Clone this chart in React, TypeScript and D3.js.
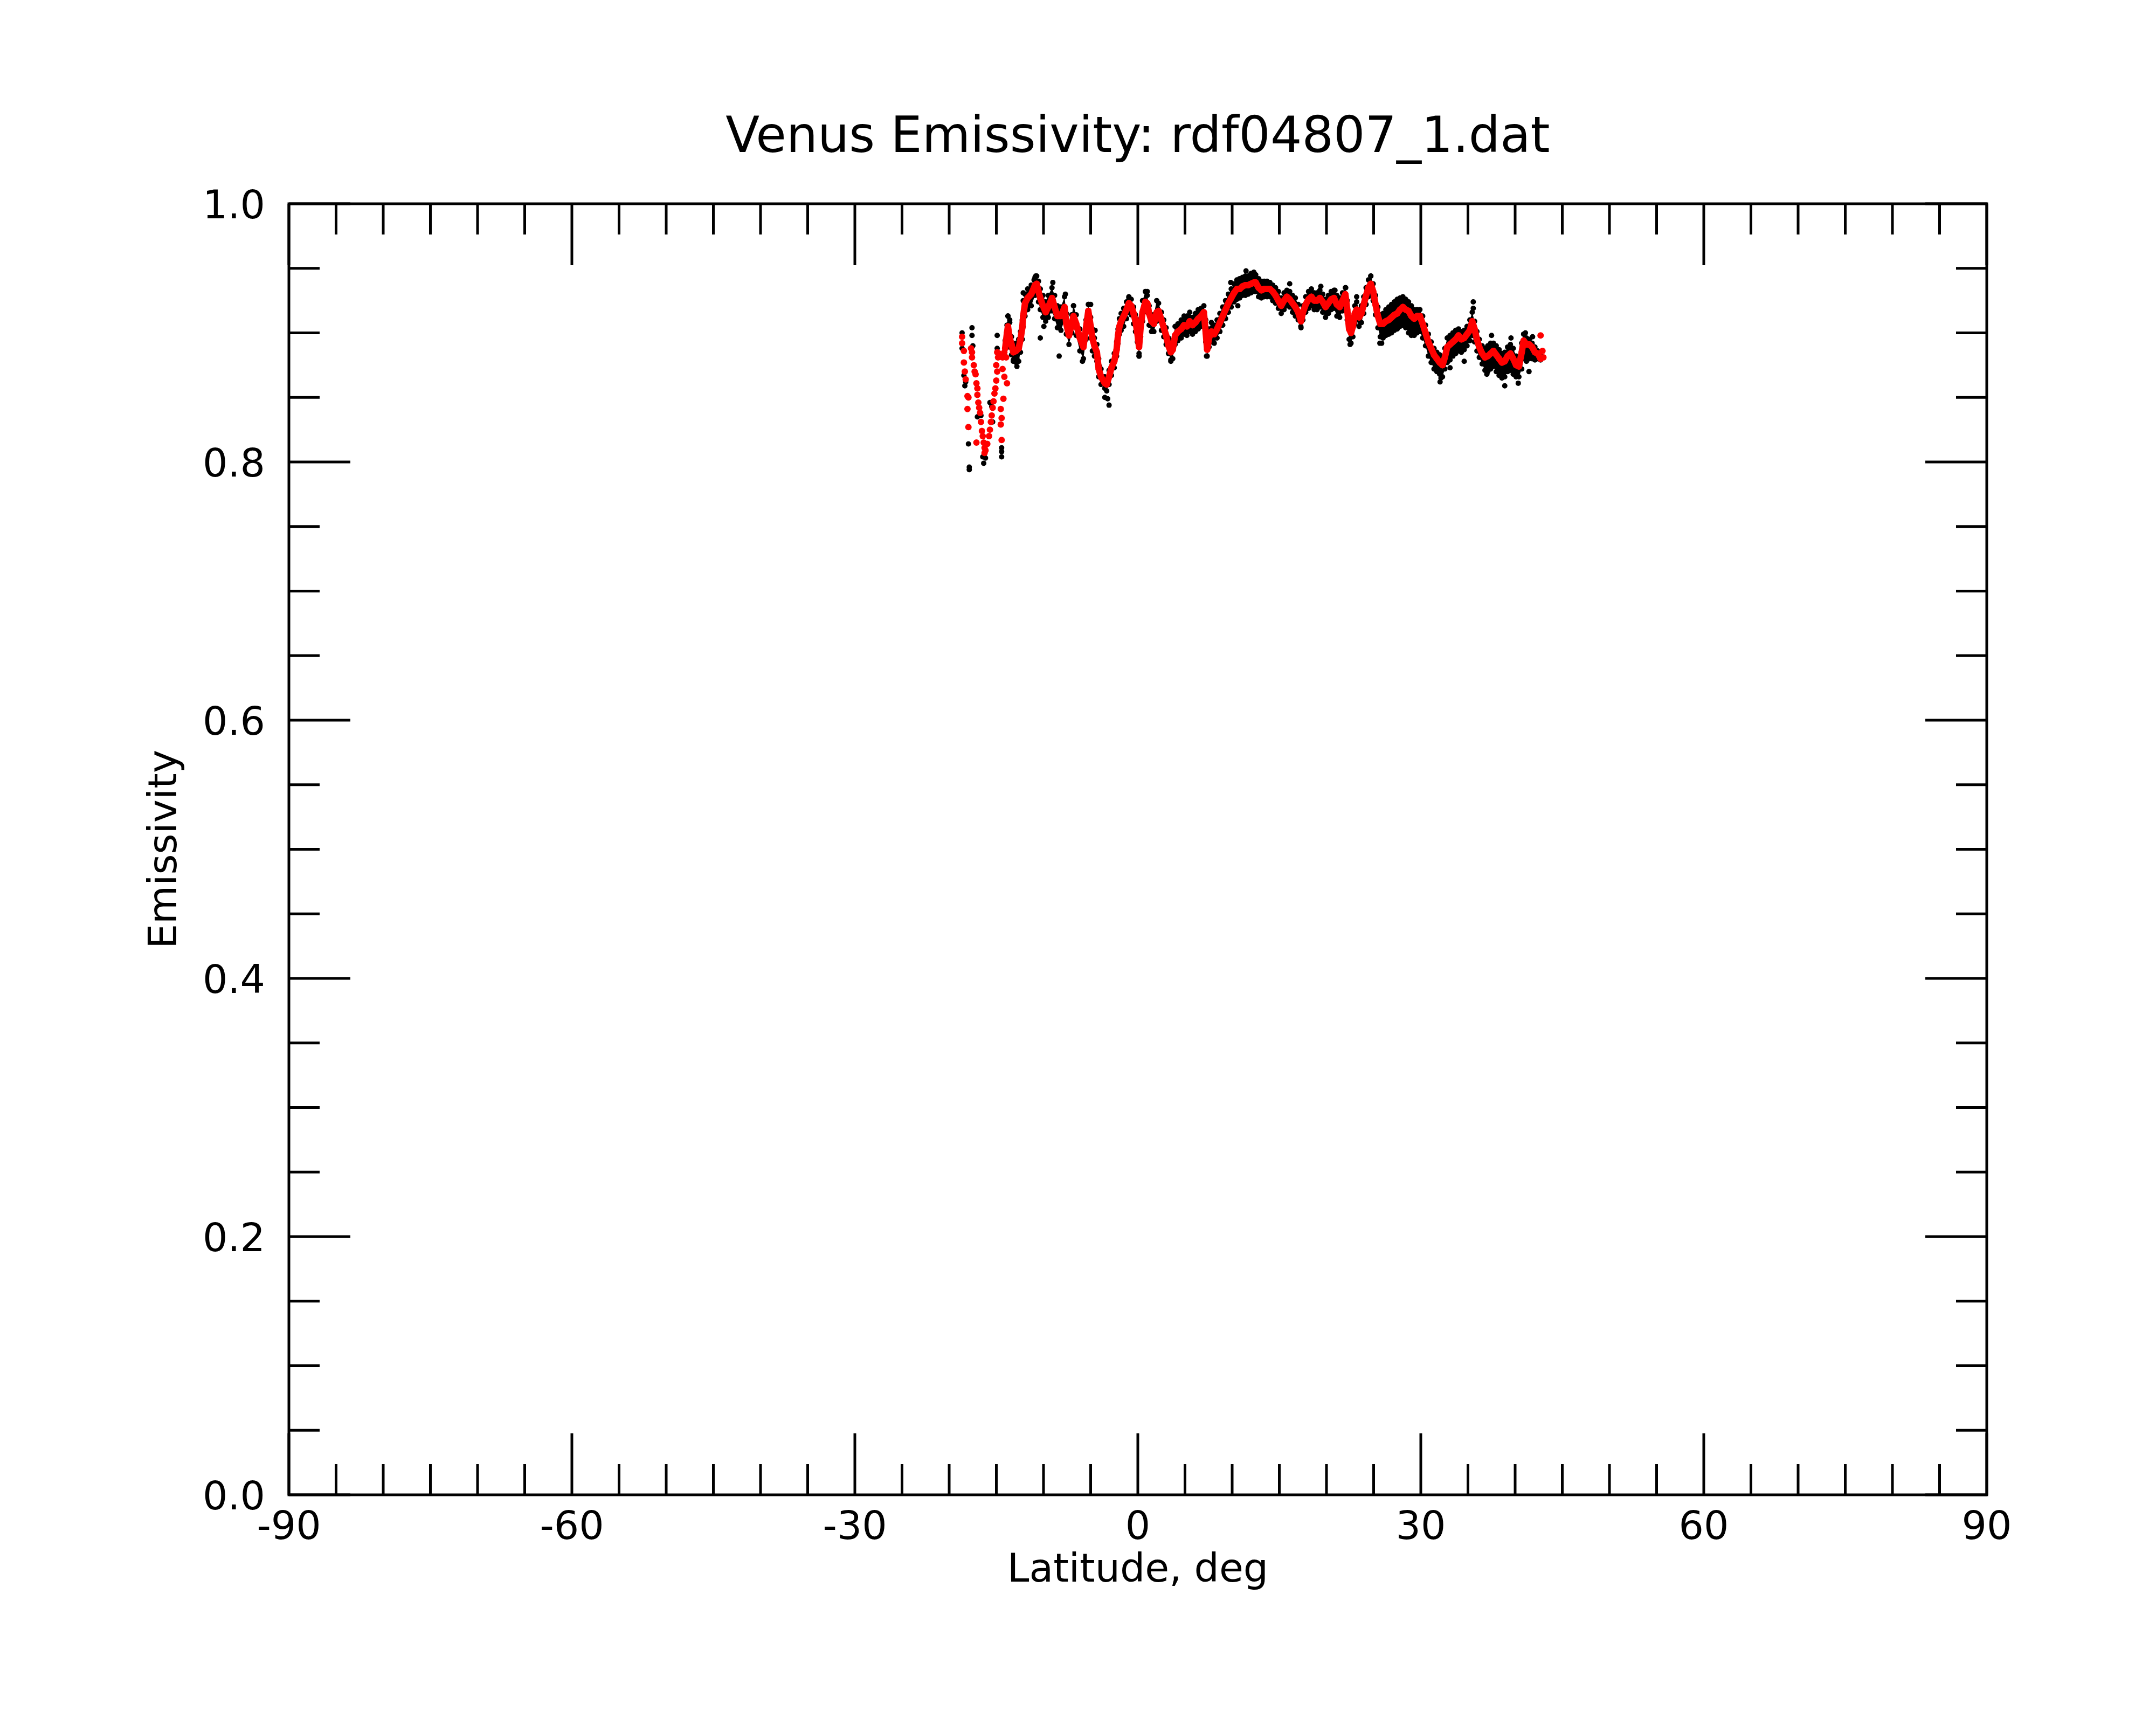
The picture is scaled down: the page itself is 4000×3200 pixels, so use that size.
import React from "react";
import * as d3 from "d3";

const W = 4000;
const H = 3200;
const PLOT = { left: 536, right: 3686, top: 378, bottom: 2773 };

const TITLE = "Venus Emissivity: rdf04807_1.dat";
const X_LABEL = "Latitude, deg";
const Y_LABEL = "Emissivity";
const X_DOMAIN: [number, number] = [-90, 90];
const Y_DOMAIN: [number, number] = [0, 1];
const X_MAJOR = [-90, -60, -30, 0, 30, 60, 90];
const X_MINOR_STEP = 5;
const Y_MAJOR = [0, 0.2, 0.4, 0.6, 0.8, 1.0];
const Y_MINOR_STEP = 0.05;

// continuous part of the scan: latitude, smoothed (red) value, raw (black) upper and lower spread
const bandLat = [
  -14.06, -13.87, -13.77, -13.58, -13.39, -13.2, -12.91, -12.63, -12.44, -12.25,
  -12.15, -11.96, -11.68, -11.3, -10.9, -10.72, -10.53, -10.34, -10.06, -9.77,
  -9.49, -9.1, -8.82, -8.53, -8.15, -7.77, -7.58, -7.3, -7.0, -6.82,
  -6.53, -6.15, -5.77, -5.49, -5.25, -5.0, -4.82, -4.6, -4.34, -4.15,
  -3.9, -3.5, -3.3, -3.05, -2.8, -2.5, -2.25, -2.1, -1.95, -1.77,
  -1.5, -1.2, -0.95, -0.7, -0.45, -0.25, -0.05, 0.13, 0.3, 0.5,
  0.8, 1.0, 1.2, 1.45, 1.7, 2.0, 2.2, 2.5, 2.75, 3.0,
  3.25, 3.5, 3.7, 3.95, 4.25, 4.6, 4.9, 5.2, 5.5, 5.8,
  6.1, 6.4, 6.7, 7.0, 7.2, 7.35, 7.55, 7.8, 8.1, 8.4,
  8.7, 9.0, 9.3, 9.6, 9.9, 10.2, 10.5, 10.8, 11.1, 11.4,
  11.7, 12.0, 12.3, 12.5, 12.8, 13.1, 13.4, 13.7, 14.0, 14.3,
  14.6, 14.9, 15.2, 15.5, 15.8, 16.1, 16.4, 16.7, 17.0, 17.3,
  17.5, 17.8, 18.1, 18.4, 18.7, 19.0, 19.3, 19.6, 19.9, 20.2,
  20.5, 20.8, 21.1, 21.4, 21.7, 22.0, 22.2, 22.4, 22.6, 22.8,
  23.0, 23.2, 23.45, 23.7, 23.95, 24.2, 24.45, 24.7, 24.95, 25.2,
  25.45, 25.7, 26.0, 26.3, 26.6, 26.9, 27.2, 27.5, 27.8, 28.1,
  28.4, 28.7, 29.0, 29.3, 29.6, 29.9, 30.2, 30.5, 30.8, 31.1,
  31.4, 31.7, 32.0, 32.3, 32.55, 32.8, 33.1, 33.4, 33.7, 34.0,
  34.3, 34.6, 34.9, 35.2, 35.45, 35.7, 35.95, 36.2, 36.5, 36.8,
  37.1, 37.4, 37.7, 38.0, 38.3, 38.6, 38.9, 39.2, 39.5, 39.8,
  40.1, 40.4, 40.7, 40.9, 41.2, 41.5, 41.8, 42.1, 42.4, 42.7,
];

const smoothE = [
  0.888, 0.9, 0.905, 0.896, 0.891, 0.885, 0.886, 0.888, 0.895, 0.904,
  0.913, 0.923, 0.927, 0.93, 0.937, 0.938, 0.932, 0.927, 0.921, 0.916,
  0.92, 0.927, 0.92, 0.913, 0.913, 0.92, 0.907, 0.898, 0.907, 0.913,
  0.907, 0.896, 0.889, 0.904, 0.917, 0.905, 0.896, 0.89, 0.885, 0.872,
  0.866, 0.861, 0.86, 0.866, 0.873, 0.878, 0.887, 0.898, 0.905, 0.909,
  0.913, 0.918, 0.923, 0.921, 0.915, 0.909, 0.9, 0.889, 0.905, 0.916,
  0.924, 0.923, 0.915, 0.909, 0.907, 0.916, 0.917, 0.91, 0.904, 0.898,
  0.89, 0.885, 0.887, 0.898, 0.901, 0.903, 0.906, 0.905, 0.909, 0.906,
  0.908, 0.911, 0.913, 0.916, 0.9, 0.887, 0.896, 0.901, 0.899, 0.903,
  0.908, 0.913, 0.918, 0.923, 0.927, 0.931, 0.934, 0.934, 0.936, 0.937,
  0.937, 0.938, 0.939, 0.939, 0.935, 0.933, 0.934, 0.934, 0.934, 0.932,
  0.929, 0.925, 0.921, 0.925, 0.928, 0.926, 0.923, 0.92, 0.916, 0.909,
  0.916, 0.922, 0.926, 0.928, 0.925, 0.925, 0.927, 0.924, 0.92, 0.923,
  0.926, 0.927, 0.922, 0.92, 0.925, 0.93, 0.918, 0.903, 0.9, 0.905,
  0.915, 0.918, 0.912, 0.915, 0.922, 0.929, 0.935, 0.938, 0.932, 0.922,
  0.913, 0.907, 0.907, 0.909, 0.91, 0.912, 0.914, 0.915, 0.918, 0.92,
  0.918, 0.917, 0.913, 0.911, 0.913, 0.913, 0.907, 0.9, 0.893, 0.888,
  0.883, 0.88, 0.877, 0.875, 0.881, 0.889, 0.891, 0.893, 0.895, 0.898,
  0.895, 0.896, 0.899, 0.902, 0.909, 0.903, 0.895, 0.889, 0.884, 0.881,
  0.882, 0.884, 0.886, 0.883, 0.88, 0.877, 0.878, 0.882, 0.884, 0.88,
  0.875, 0.874, 0.885, 0.894, 0.891, 0.891, 0.889, 0.885, 0.884, 0.88,
];

const rawHiE = [
  0.894, 0.906, 0.913, 0.908, 0.897, 0.892, 0.892, 0.895, 0.901, 0.91,
  0.925, 0.93, 0.934, 0.937, 0.943, 0.944, 0.94, 0.934, 0.929, 0.924,
  0.929, 0.935, 0.929, 0.921, 0.92, 0.928, 0.915, 0.905, 0.914, 0.921,
  0.914, 0.903, 0.896, 0.91, 0.922, 0.912, 0.903, 0.896, 0.891, 0.88,
  0.872, 0.866, 0.864, 0.871, 0.878, 0.884, 0.893, 0.903, 0.911, 0.915,
  0.919, 0.924, 0.928, 0.926, 0.92, 0.914, 0.906, 0.895, 0.911, 0.925,
  0.932, 0.929, 0.921, 0.914, 0.914, 0.925, 0.923, 0.916, 0.91, 0.904,
  0.896, 0.891, 0.894, 0.905, 0.907, 0.91, 0.913, 0.913, 0.916, 0.912,
  0.915, 0.918, 0.919, 0.921, 0.91, 0.894, 0.903, 0.908, 0.906, 0.91,
  0.915, 0.92, 0.925, 0.93, 0.934, 0.938, 0.941, 0.942, 0.943, 0.944,
  0.944, 0.946, 0.947, 0.945, 0.942, 0.94, 0.94, 0.94, 0.939, 0.937,
  0.935, 0.932, 0.927, 0.931, 0.933, 0.932, 0.929, 0.927, 0.922, 0.915,
  0.921, 0.928, 0.932, 0.934, 0.931, 0.931, 0.933, 0.93, 0.926, 0.929,
  0.932, 0.933, 0.929, 0.927, 0.931, 0.935, 0.925, 0.91, 0.907, 0.912,
  0.921, 0.924, 0.918, 0.921, 0.928, 0.935, 0.941, 0.944, 0.938, 0.929,
  0.92, 0.914, 0.915, 0.918, 0.92, 0.922, 0.924, 0.926, 0.927, 0.928,
  0.926, 0.924, 0.921, 0.918, 0.918, 0.918, 0.913, 0.906, 0.899, 0.893,
  0.888, 0.885, 0.883, 0.881, 0.888, 0.896, 0.898, 0.9, 0.902, 0.903,
  0.901, 0.902, 0.905, 0.91, 0.916, 0.909, 0.901, 0.895, 0.89, 0.888,
  0.89, 0.892, 0.892, 0.89, 0.887, 0.884, 0.885, 0.889, 0.891, 0.888,
  0.882, 0.88, 0.892, 0.899, 0.896, 0.895, 0.892, 0.889, 0.886, 0.882,
];

const rawLoE = [
  0.882, 0.893, 0.898, 0.889, 0.883, 0.878, 0.877, 0.878, 0.885, 0.895,
  0.905, 0.913, 0.918, 0.921, 0.929, 0.93, 0.924, 0.918, 0.912, 0.909,
  0.912, 0.917, 0.911, 0.904, 0.902, 0.91, 0.899, 0.891, 0.9, 0.905,
  0.898, 0.886, 0.88, 0.895, 0.908, 0.896, 0.886, 0.882, 0.878, 0.866,
  0.86, 0.857, 0.855, 0.86, 0.867, 0.873, 0.882, 0.892, 0.899, 0.902,
  0.905, 0.911, 0.916, 0.914, 0.907, 0.901, 0.893, 0.882, 0.897, 0.909,
  0.917, 0.916, 0.906, 0.901, 0.901, 0.909, 0.91, 0.902, 0.897, 0.891,
  0.884, 0.879, 0.88, 0.891, 0.894, 0.896, 0.899, 0.898, 0.901, 0.899,
  0.901, 0.903, 0.905, 0.908, 0.893, 0.882, 0.889, 0.893, 0.892, 0.896,
  0.901, 0.906, 0.911, 0.916, 0.92, 0.924, 0.926, 0.927, 0.929, 0.929,
  0.93, 0.931, 0.932, 0.932, 0.928, 0.927, 0.928, 0.928, 0.928, 0.925,
  0.923, 0.919, 0.915, 0.918, 0.921, 0.92, 0.916, 0.913, 0.91, 0.904,
  0.91, 0.916, 0.919, 0.921, 0.918, 0.918, 0.92, 0.916, 0.912, 0.915,
  0.918, 0.919, 0.913, 0.912, 0.917, 0.922, 0.91, 0.895, 0.892, 0.897,
  0.907, 0.91, 0.905, 0.908, 0.915, 0.922, 0.928, 0.931, 0.925, 0.914,
  0.904, 0.897, 0.896, 0.898, 0.899, 0.9, 0.902, 0.903, 0.905, 0.906,
  0.904, 0.9, 0.898, 0.898, 0.9, 0.901, 0.896, 0.89, 0.882, 0.877,
  0.872, 0.87, 0.868, 0.866, 0.872, 0.877, 0.879, 0.882, 0.884, 0.886,
  0.885, 0.887, 0.89, 0.894, 0.898, 0.893, 0.886, 0.881, 0.876, 0.871,
  0.87, 0.872, 0.874, 0.87, 0.867, 0.865, 0.866, 0.87, 0.871, 0.868,
  0.866, 0.866, 0.872, 0.88, 0.878, 0.88, 0.88, 0.879, 0.88, 0.879,
];

// scattered smoothed (red) points at the southern end and the northern tip
const redDotLat = [
  -18.63, -18.63, -18.44, -18.44, -18.34, -18.25, -18.06, -17.96, -18.06, -17.96,
  -17.11, -17.68, -17.58, -17.58, -17.39, -17.3, -17.2, -17.11, -17.01, -17.01,
  -16.91, -16.82, -16.72, -16.63, -16.53, -16.44, -16.34, -16.25, -16.25, -16.15,
  -15.96, -15.77, -15.68, -15.58, -15.49, -15.39, -15.3, -15.2, -15.1, -15.01,
  -14.91, -15.01, -14.82, -14.91, -14.72, -14.53, -14.34, -14.15, -13.96, -14.34,
  -14.15, -13.87, -14.25, -14.53, -14.44, -14.53, -14.44, -12.15, 42.7, 42.9, 43.0,
];
const redDotE = [
  0.897, 0.892, 0.886, 0.877, 0.87, 0.864, 0.851, 0.85, 0.841, 0.827,
  0.815, 0.888, 0.885, 0.881, 0.875, 0.87, 0.868, 0.861, 0.857, 0.852,
  0.846, 0.842, 0.838, 0.831, 0.824, 0.82, 0.815, 0.811, 0.807, 0.809,
  0.814, 0.82, 0.825, 0.831, 0.836, 0.842, 0.847, 0.853, 0.857, 0.863,
  0.87, 0.875, 0.881, 0.885, 0.884, 0.882, 0.881, 0.885, 0.881, 0.872,
  0.866, 0.861, 0.849, 0.841, 0.834, 0.829, 0.817, 0.913, 0.898, 0.886, 0.881,
];

// scattered raw (black) points outside the main band
const rawDotLat = [
  -18.63, -18.63, -17.58, -17.58, -17.49, -18.34, -18.44, -17.01, -16.63, -17.96,
  -17.87, -17.87, -16.34, -16.15, -16.44, -15.68, -15.49, -15.39, -14.91, -14.91,
  -14.44, -14.44, -14.44, -13.77, -13.58, -13.2, -12.82, -12.82, -12.15, -10.82,
  -11.0, -10.34, -9.96, -9.01, -8.34, -7.68, -6.82, -5.87, -5.2, -5.0,
  -4.53, -4.06, 0.13, 3.5, 7.28, 9.85, -3.05, -3.5, -3.2, 11.47,
  16.1, 19.4, 20.9, 22.04, 17.28, 22.5, 23.2, 24.7, 25.66, 10.6,
  35.56, 35.56, 37.5, 39.56, 41.09, 32.14, 32.04, 38.9, 40.33, 37.0,
  41.47, 28.1, 25.85, 34.6, 33.1, 41.85, 1.0, -0.95, 0.13, -18.25,
];
const rawDotE = [
  0.9, 0.888, 0.904, 0.898, 0.89, 0.859, 0.867, 0.835, 0.836, 0.814,
  0.796, 0.794, 0.799, 0.803, 0.804, 0.846, 0.843, 0.831, 0.898, 0.888,
  0.811, 0.808, 0.804, 0.913, 0.91, 0.879, 0.88, 0.874, 0.931, 0.944,
  0.941, 0.896, 0.905, 0.939, 0.882, 0.93, 0.921, 0.878, 0.922, 0.922,
  0.902, 0.874, 0.882, 0.878, 0.882, 0.939, 0.844, 0.85, 0.849, 0.948,
  0.938, 0.936, 0.933, 0.935, 0.905, 0.891, 0.928, 0.944, 0.892, 0.921,
  0.924, 0.919, 0.898, 0.896, 0.9, 0.865, 0.862, 0.859, 0.861, 0.868,
  0.87, 0.927, 0.892, 0.878, 0.873, 0.897, 0.932, 0.927, 0.884, 0.862,
];

const FONT = "DejaVu Sans";
const AXIS_W = 5;

export default function App() {
  const x = d3.scaleLinear().domain(X_DOMAIN).range([PLOT.left, PLOT.right]);
  const y = d3.scaleLinear().domain(Y_DOMAIN).range([PLOT.bottom, PLOT.top]);

  const xMinor = d3
    .range(X_DOMAIN[0], X_DOMAIN[1] + 0.001, X_MINOR_STEP)
    .filter((v) => !X_MAJOR.some((m) => Math.abs(m - v) < 1e-6));
  const yMinor = d3
    .range(0, 20.5)
    .map((i) => +(i * Y_MINOR_STEP).toFixed(2))
    .filter((v) => !Y_MAJOR.some((m) => Math.abs(m - v) < 1e-6));

  const idx = d3.range(bandLat.length);
  const bandArea = d3
    .area<number>()
    .x((i) => x(bandLat[i]))
    .y0((i) => y(rawLoE[i]))
    .y1((i) => y(rawHiE[i]));
  const redLine = d3
    .line<number>()
    .x((i) => x(bandLat[i]))
    .y((i) => y(smoothE[i]));

  const MAJ = 114;
  const MIN = 57;

  return (
    <svg
      width={W}
      height={H}
      viewBox={`0 0 ${W} ${H}`}
      style={{ position: "absolute", left: 0, top: 0, background: "#fff" }}
      fontFamily={FONT}
    >
      <rect x={0} y={0} width={W} height={H} fill="#fff" />

      {/* raw data (black) */}
      <g>
        <path d={bandArea(idx) || ""} fill="#000" />
        {idx.map((i) => (
          <circle key={`hi${i}`} cx={x(bandLat[i])} cy={y(rawHiE[i])} r={5} fill="#000" />
        ))}
        {idx.map((i) => (
          <circle key={`lo${i}`} cx={x(bandLat[i])} cy={y(rawLoE[i])} r={5} fill="#000" />
        ))}
        {rawDotLat.map((v, i) => (
          <circle key={`rd${i}`} cx={x(v)} cy={y(rawDotE[i])} r={5} fill="#000" />
        ))}
      </g>

      {/* smoothed data (red) */}
      <g>
        <path
          d={redLine(idx) || ""}
          fill="none"
          stroke="#ff0000"
          strokeWidth={12}
          strokeLinejoin="round"
          strokeLinecap="round"
        />
        {idx.map((i) => (
          <circle key={`sm${i}`} cx={x(bandLat[i])} cy={y(smoothE[i])} r={6} fill="#ff0000" />
        ))}
        {redDotLat.map((v, i) => (
          <circle key={`rdd${i}`} cx={x(v)} cy={y(redDotE[i])} r={6} fill="#ff0000" />
        ))}
      </g>

      {/* frame */}
      <rect
        x={PLOT.left}
        y={PLOT.top}
        width={PLOT.right - PLOT.left}
        height={PLOT.bottom - PLOT.top}
        fill="none"
        stroke="#000"
        strokeWidth={AXIS_W}
      />

      {/* x ticks */}
      {X_MAJOR.map((v) => (
        <g key={`xM${v}`}>
          <line x1={x(v)} x2={x(v)} y1={PLOT.bottom} y2={PLOT.bottom - MAJ} stroke="#000" strokeWidth={AXIS_W} />
          <line x1={x(v)} x2={x(v)} y1={PLOT.top} y2={PLOT.top + MAJ} stroke="#000" strokeWidth={AXIS_W} />
          <text x={x(v)} y={2855} fontSize={73} textAnchor="middle" fill="#000">
            {String(v)}
          </text>
        </g>
      ))}
      {xMinor.map((v) => (
        <g key={`xm${v}`}>
          <line x1={x(v)} x2={x(v)} y1={PLOT.bottom} y2={PLOT.bottom - MIN} stroke="#000" strokeWidth={AXIS_W} />
          <line x1={x(v)} x2={x(v)} y1={PLOT.top} y2={PLOT.top + MIN} stroke="#000" strokeWidth={AXIS_W} />
        </g>
      ))}

      {/* y ticks */}
      {Y_MAJOR.map((v) => (
        <g key={`yM${v}`}>
          <line x1={PLOT.left} x2={PLOT.left + MAJ} y1={y(v)} y2={y(v)} stroke="#000" strokeWidth={AXIS_W} />
          <line x1={PLOT.right} x2={PLOT.right - MAJ} y1={y(v)} y2={y(v)} stroke="#000" strokeWidth={AXIS_W} />
          <text x={492} y={y(v) + 27} fontSize={73} textAnchor="end" fill="#000">
            {v.toFixed(1)}
          </text>
        </g>
      ))}
      {yMinor.map((v) => (
        <g key={`ym${v}`}>
          <line x1={PLOT.left} x2={PLOT.left + MIN} y1={y(v)} y2={y(v)} stroke="#000" strokeWidth={AXIS_W} />
          <line x1={PLOT.right} x2={PLOT.right - MIN} y1={y(v)} y2={y(v)} stroke="#000" strokeWidth={AXIS_W} />
        </g>
      ))}

      {/* titles */}
      <text x={(PLOT.left + PLOT.right) / 2} y={282} fontSize={92} textAnchor="middle" fill="#000">
        {TITLE}
      </text>
      <text x={(PLOT.left + PLOT.right) / 2} y={2934} fontSize={73} textAnchor="middle" fill="#000">
        {X_LABEL}
      </text>
      <text
        transform={`translate(327, ${(PLOT.top + PLOT.bottom) / 2}) rotate(-90)`}
        fontSize={73}
        textAnchor="middle"
        fill="#000"
      >
        {Y_LABEL}
      </text>
    </svg>
  );
}
